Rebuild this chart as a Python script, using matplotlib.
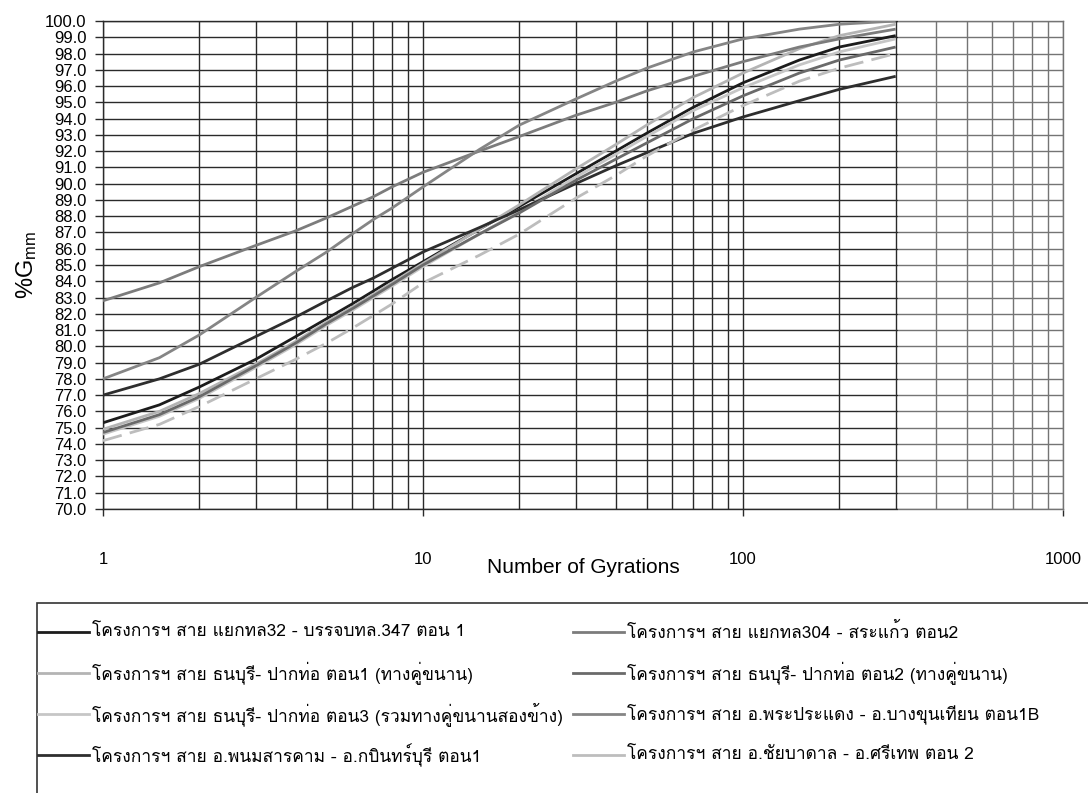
import numpy as np
import matplotlib
matplotlib.use("Agg")
import matplotlib.pyplot as plt
from matplotlib import font_manager
from matplotlib.lines import Line2D
from matplotlib.patches import Rectangle
from matplotlib.ticker import NullFormatter, FixedLocator

# number of gyrations where values were read
gyrations = [1, 1.5, 2, 3, 4, 5, 6, 7, 8, 10, 15, 20, 30, 40, 50, 70, 100, 150, 200, 300]

# %Gmm for each project (legend order)
s_tl32 = [75.3, 76.4, 77.5, 79.2, 80.6, 81.7, 82.6, 83.4, 84.1, 85.2, 87.2, 88.6, 90.6, 92.0, 93.1, 94.7, 96.2, 97.6, 98.4, 99.1]
s_thon1 = [74.9, 76.0, 77.1, 78.9, 80.3, 81.5, 82.4, 83.2, 83.9, 85.1, 87.2, 88.7, 90.9, 92.4, 93.6, 95.3, 96.8, 98.3, 99.1, 99.8]
s_thon3 = [74.6, 75.7, 76.8, 78.7, 80.1, 81.3, 82.2, 83.0, 83.7, 84.9, 86.9, 88.3, 90.4, 91.8, 92.9, 94.5, 95.9, 97.3, 98.1, 98.9]
s_phanom = [77.0, 78.0, 78.9, 80.6, 81.8, 82.8, 83.6, 84.2, 84.8, 85.8, 87.3, 88.4, 90.0, 91.1, 91.9, 93.1, 94.1, 95.1, 95.8, 96.6]
s_tl304 = [82.8, 83.9, 84.9, 86.2, 87.1, 87.9, 88.6, 89.2, 89.8, 90.7, 92.0, 92.9, 94.2, 95.0, 95.7, 96.6, 97.5, 98.4, 98.9, 99.5]
s_thon2 = [74.7, 75.8, 76.9, 78.8, 80.2, 81.4, 82.3, 83.1, 83.8, 85.0, 86.9, 88.2, 90.2, 91.5, 92.5, 94.0, 95.4, 96.8, 97.6, 98.4]
s_phra = [78.0, 79.3, 80.7, 83.0, 84.6, 85.8, 86.9, 87.8, 88.5, 89.8, 92.1, 93.6, 95.2, 96.3, 97.1, 98.1, 98.9, 99.5, 99.8, 100.0]
s_chai = [74.2, 75.2, 76.3, 78.0, 79.2, 80.2, 81.1, 81.9, 82.6, 83.9, 85.6, 86.9, 89.1, 90.5, 91.7, 93.3, 94.8, 96.3, 97.1, 98.0]

labels = [
    "โครงการฯ สาย แยกทล32 - บรรจบทล.347 ตอน 1",
    "โครงการฯ สาย ธนบุรี- ปากท่อ ตอน1 (ทางคู่ขนาน)",
    "โครงการฯ สาย ธนบุรี- ปากท่อ ตอน3 (รวมทางคู่ขนานสองข้าง)",
    "โครงการฯ สาย อ.พนมสารคาม - อ.กบินทร์บุรี ตอน1",
    "โครงการฯ สาย แยกทล304 - สระแก้ว ตอน2",
    "โครงการฯ สาย ธนบุรี- ปากท่อ ตอน2 (ทางคู่ขนาน)",
    "โครงการฯ สาย อ.พระประแดง - อ.บางขุนเทียน ตอน1B",
    "โครงการฯ สาย อ.ชัยบาดาล - อ.ศรีเทพ ตอน 2",
]
series = [s_tl32, s_thon1, s_thon3, s_phanom, s_tl304, s_thon2, s_phra, s_chai]
colors = ["#1c1c1c", "#b4b4b4", "#c6c6c6", "#2e2e2e", "#7c7c7c", "#6a6a6a", "#858585", "#bdbdbd"]
styles = ["-", "-", "-", "-", "-", "-", "-", (0, (7, 3))]

xticks = [1, 10, 100, 1000]
xticklabels = ["1", "10", "100", "1000"]


def find_thai_font():
    # look for any installed font that has Thai glyphs
    try:
        from fontTools.ttLib import TTFont
    except ImportError:
        return None
    for f in font_manager.fontManager.ttflist:
        try:
            tt = TTFont(f.fname, fontNumber=0, lazy=True)
            cmap = tt.getBestCmap()
            if cmap and 0x0E01 in cmap and 0x0E42 in cmap:
                return f.name
        except Exception:
            continue
    return None


thai = find_thai_font()
base = ["Liberation Sans", "DejaVu Sans"]
plt.rcParams["font.family"] = base
plt.rcParams["mathtext.fontset"] = "custom"
plt.rcParams["mathtext.rm"] = "Liberation Sans"
plt.rcParams["mathtext.it"] = "Liberation Sans"
thai_family = ([thai] if thai else []) + base

W, H = 1088, 793
fig = plt.figure(figsize=(W / 100, H / 100), dpi=100)
L, R, T, B = 103, 1063, 21, 509
ax = fig.add_axes([L / W, 1 - B / H, (R - L) / W, (B - T) / H])

for ys, c, ls in zip(series, colors, styles):
    ax.plot(gyrations, ys, color=c, lw=2.0, ls=ls, solid_capstyle="butt", zorder=3)

ax.set_xscale("log")
ax.set_xlim(1, 1000)
ax.set_ylim(70, 100)
yt = np.arange(70, 100.5, 1.0)
ax.set_yticks(yt)
ax.set_yticklabels([f"{v:.1f}" for v in yt], fontsize=12)
ax.xaxis.set_minor_locator(FixedLocator([m * 10 ** k for k in range(3) for m in range(2, 10)]))
ax.xaxis.set_minor_formatter(NullFormatter())
ax.set_xticks(xticks)
ax.set_xticklabels(xticklabels, fontsize=12)

ax.grid(True, which="both", axis="x", color="#2a2a2a", lw=1.0, zorder=1)
ax.grid(True, which="major", axis="y", color="#2a2a2a", lw=1.0, zorder=1)
ax.tick_params(axis="y", direction="out", length=6, width=1.0, pad=6, color="#2a2a2a")
ax.tick_params(axis="x", which="major", direction="out", length=5, width=1.0, pad=26, color="#2a2a2a")
ax.tick_params(axis="x", which="minor", length=0)
for sp in ax.spines.values():
    sp.set_color("#2a2a2a")
    sp.set_linewidth(1.0)

# the scan is paler to the right of 300 gyrations
x300 = np.log10(300) / 3
ax.add_patch(Rectangle((x300 + 0.002, -0.004), 1.01 - x300, 1.008, transform=ax.transAxes,
                       facecolor="white", alpha=0.35, lw=0, zorder=2.6, clip_on=False))

ax.set_xlabel("Number of Gyrations", fontsize=15, labelpad=-6.5)
ax.set_ylabel(r"%G$_{\mathrm{mm}}$", fontsize=17, labelpad=4)

# legend box, runs off the right and bottom edges like the scan
top = 603
fig.add_artist(Rectangle((37 / W, -0.05), 1.1, 1 - top / H + 0.05, transform=fig.transFigure,
                         fill=False, edgecolor="#333333", lw=1.2, clip_on=False))
col_x = [38, 573]
row_y = [632, 673, 714, 755]
for i, (lab, c) in enumerate(zip(labels, colors)):
    x0 = col_x[i // 4]
    y0 = 1 - row_y[i % 4] / H
    fig.add_artist(Line2D([x0 / W, (x0 + 51) / W], [y0, y0], transform=fig.transFigure,
                          color=c, lw=2.0))
    fig.text((x0 + 54) / W, y0, lab, fontsize=12.5, va="center", ha="left", family=thai_family)

fig.savefig("out.png", dpi=100)
